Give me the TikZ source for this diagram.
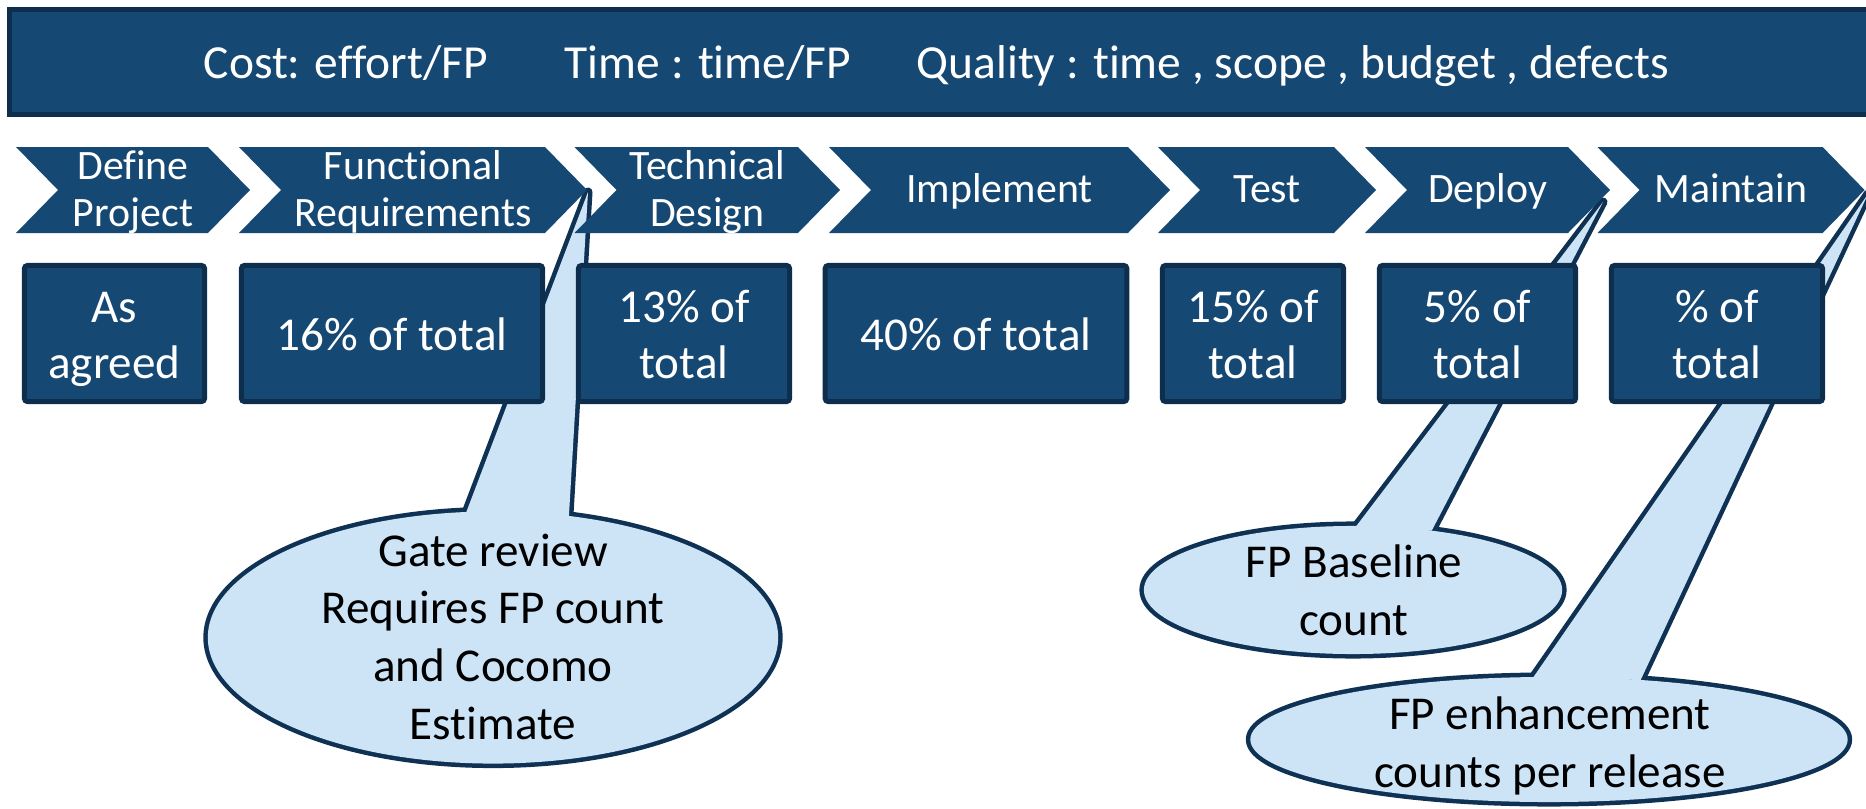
\documentclass[tikz,border=0pt]{standalone}
\usepackage{fontspec}
\setmainfont{Carlito}[Ligatures={NoCommon}]
\usetikzlibrary{shapes.geometric}
\definecolor{navy}{RGB}{22,72,116}
\definecolor{navyedge}{RGB}{14,46,78}
\definecolor{bubblefill}{RGB}{205,228,246}
\definecolor{bubbleedge}{RGB}{15,50,84}

\begin{document}
\begin{tikzpicture}[x=0.01cm, y=-0.01cm,
  headtext/.style={text=white, inner sep=0pt, anchor=base west,
    font=\fontsize{13.5pt}{16pt}\selectfont},
  steptext/.style={text=white, align=center, inner sep=0pt,
    font=\fontsize{11.9pt}{13.4pt}\selectfont},
  phasebox/.style={draw=navyedge, fill=navy, line width=0.05cm,
    rounded corners=0.03cm, minimum height=1.36cm, inner sep=0pt},
  boxtext/.style={text=white, align=center, inner sep=0pt,
    font=\fontsize{13.4pt}{15.9pt}\selectfont},
  bubble/.style={ellipse, draw=bubbleedge, fill=bubblefill, line width=0.09cm,
    inner sep=0pt, outer sep=0pt},
  bubblecover/.style={ellipse, fill=bubblefill, inner sep=0pt, outer sep=0pt},
  tailedge/.style={draw=bubbleedge, line width=0.09cm, line join=round},
  bubbletext/.style={text=black, align=center, inner sep=0pt,
    font=\fontsize{13.4pt}{16.4pt}\selectfont},
]
\path[use as bounding box] (0,0) rectangle (1866,809);
\clip (0,0) rectangle (1866,809);

% ---- callouts (drawn first, so the steps and boxes cover their tails)
% gate review
\node[bubble, minimum width=5.70cm, minimum height=2.52cm] (c1) at (493,637.5) {};
\coordinate (a1) at (588,192);
\draw[tailedge] (c1.102) -- (a1) -- (c1.58);
\fill[bubblefill] (c1.102) -- (a1) -- (c1.58) -- cycle;
\node[bubblecover, minimum width=5.70cm, minimum height=2.52cm] at (c1) {};
\node[bubbletext] (t1) at (493,641)
  {\strut Gate review\\\strut Requires FP count\\\strut and Cocomo\\\strut Estimate};

% baseline count
\node[bubble, minimum width=4.18cm, minimum height=1.28cm] (c2) at (1353,590) {};
\coordinate (a2) at (1603,202);
\draw[tailedge] (c2.87) -- (a2) -- (c2.37);
\fill[bubblefill] (c2.87) -- (a2) -- (c2.37) -- cycle;
\node[bubblecover, minimum width=4.18cm, minimum height=1.28cm] at (c2) {};
\node[bubbletext] (t2) at (1354,595) {\strut FP Baseline\\\strut count};

% enhancement counts
\node[bubble, minimum width=5.97cm, minimum height=1.25cm] (c3) at (1549,739.5) {};
\coordinate (a3) at (1868,194);
\draw[tailedge] (c3.104) -- (a3) -- (c3.33);
\fill[bubblefill] (c3.104) -- (a3) -- (c3.33) -- cycle;
\node[bubblecover, minimum width=5.97cm, minimum height=1.25cm] at (c3) {};
\node[bubbletext] (t3) at (1550,747) {\strut FP enhancement\\\strut counts per release};

% ---- header bar
\draw[draw=navyedge, fill=navy, line width=0.05cm] (9.5,9.5) rectangle (1885,114.5);
\node[headtext] (h1) at (203,78) {Cost: effort/FP};
\node[headtext] (h2) at (564,78) {Time : time/FP};
\node[headtext] (h3) at (916,78) {Quality : time , scope , budget , defects};

% ---- process steps (chevrons)
\foreach \l/\t/\nm/\txt in {
    16/250/s1/{\strut Define\\\strut Project},
    239/587/s2/{\strut Functional\\\strut Requirements},
    574.5/840/s3/{\strut Technical\\\strut Design},
    829/1170/s4/{\strut Implement},
    1158/1376/s5/{\strut Test},
    1365/1610/s6/{\strut Deploy},
    1597.5/1864.6/s7/{\strut Maintain}} {
  \fill[navy] (\l,147) -- (\t-42,147) -- (\t,190) -- (\t-42,233)
    -- (\l,233) -- (\l+42,190) -- cycle;
  \node[steptext] (\nm) at ({(\l+\t)/2},193.5) {\txt};
}

% ---- effort share boxes
\foreach \c/\w/\nm/\txt in {
    114.5/1.80/b1/{\strut As\\\strut agreed},
    392/3.01/b2/{\strut 16\% of total},
    684/2.11/b3/{\strut 13\% of\\\strut total},
    976/3.015/b4/{\strut 40\% of total},
    1253/1.81/b5/{\strut 15\% of\\\strut total},
    1477.5/1.96/b6/{\strut 5\% of\\\strut total},
    1717/2.11/b7/{\strut \% of\\\strut total}} {
  \node[phasebox, minimum width=\w cm] (\nm) at (\c,333.5) {};
  \node[boxtext] at ([yshift=-0.055cm]\nm.center) {\txt};
}
\end{tikzpicture}
\end{document}
